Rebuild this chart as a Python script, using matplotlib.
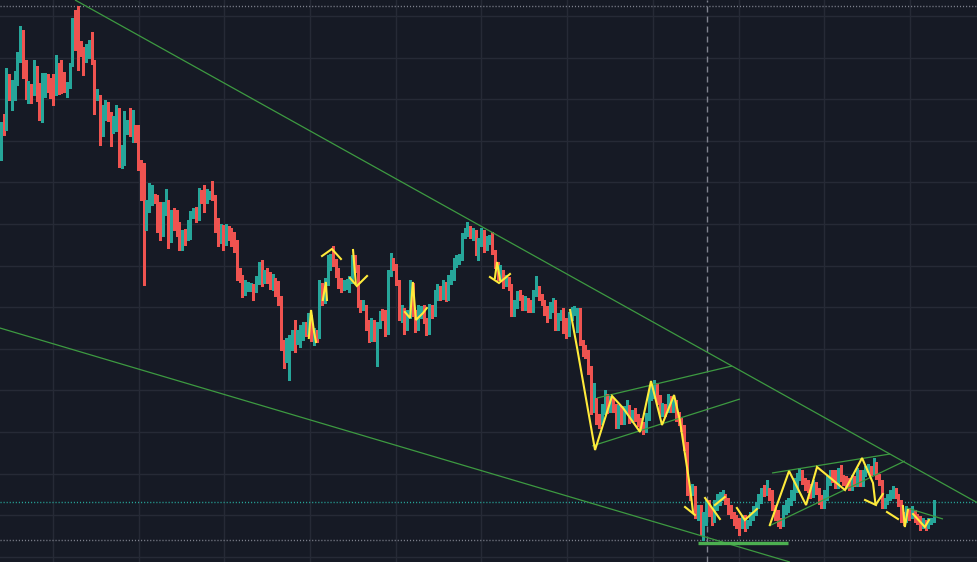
import matplotlib
matplotlib.use("Agg")
import matplotlib.pyplot as plt
import numpy as np

# ---------------- data (price units) ----------------
first_open = 402

close = [
    435, 432, 480, 471, 479, 484, 509, 526, 485, 469,
    476, 471, 495, 465, 447, 469, 487, 482, 477, 472,
    497, 492, 477, 473, 478, 497, 541, 535, 514, 512,
    505, 509, 520, 500, 465, 467, 430, 444, 460, 449,
    433, 438, 452, 397, 414, 435, 440, 430, 435, 425,
    397, 377, 349, 353, 364, 365, 363, 333, 329, 353,
    360, 324, 347, 345, 333, 318, 326, 324, 326, 348,
    350,
    343, 368, 365, 361, 366, 367, 365, 333, 321, 329, 319, 335, 330, 321, 315, 290, 286, 270, 273, 274,
    275,
    272, 283, 296, 282, 287, 285, 277, 279, 269, 262, 217, 204, 217, 219, 224, 220, 228, 231, 236, 230,
    242, 223, 229, 226, 270, 260, 280, 300, 303, 300, 289, 279, 275, 276,
    278,
    282, 303, 294, 259, 255, 257, 237, 223, 238, 226, 236, 247, 245, 230, 288, 300, 295, 280, 245, 249,
    234, 247, 275, 249, 234, 247,
    250,
    242, 230, 254, 248, 267,
    272, 265, 278, 264, 280, 285, 297, 300, 304, 325, 329, 332, 328, 330, 311, 320, 332, 314, 322, 324,
    312, 300, 287, 292, 277, 282, 277, 249, 257, 267, 266, 254, 262, 259, 252, 267, 272, 265, 260, 250,
    247, 254, 259, 235, 244, 249, 240, 229, 244, 249, 252, 252, 220, 209, 207, 192, 152,
    162, 142, 140, 152,
    165, 152, 161, 154, 137, 152, 142, 152,
    154, 142, 147,
    144, 140, 135, 132, 145, 167, 169, 177, 162, 149, 155, 150,
    165, 152, 162,
    144, 142, 134, 115, 72, 69, 74, 49, 54, 37, 42, 57, 50, 42, 57, 64,
    66, 67, 62, 52, 49, 42, 40, 34, 42, 36, 37,
    44, 50, 57, 62, 72, 70, 74, 67, 55, 47, 39, 37, 52, 54, 60, 67, 77, 84, 90, 82,
    77, 74, 67, 77, 72, 62, 57, 67, 82, 89, 84, 77, 89, 84, 80,
    78, 75, 82, 79, 90, 79, 89, 92, 94, 90, 92, 86, 80, 57, 60, 64, 68, 72, 67, 60,
    44, 42, 52, 47, 50, 44,
    42, 34, 38, 36, 40, 42, 60,
]

high = [
    440, 448, 494, 488, 482, 491, 510, 536, 532, 502,
    481, 478, 502, 496, 479, 489, 489, 488, 484, 488,
    507, 499, 502, 490, 480, 499, 544, 552, 556, 521,
    515, 518, 522, 530, 502, 473, 467, 457, 462, 459,
    450, 446, 457, 454, 417, 451, 442, 454, 452, 437,
    437, 402, 399, 362, 379, 377, 368, 367, 360, 360,
    373, 362, 352, 354, 352, 340, 332, 333, 342, 351,
    354,
    355, 374, 372, 377, 373, 371, 381, 367, 344, 338, 337, 338, 336, 334, 330, 322, 294, 287, 282, 280,
    279,
    278, 286, 300, 302, 292, 294, 290, 288, 284, 281, 266, 222, 224, 227, 232, 242, 232, 237, 240, 240,
    249, 247, 234, 232, 282, 279, 284, 307, 308, 316, 303, 294, 284, 282,
    283,
    286, 307, 307, 297, 262, 262, 257, 242, 244, 242, 240, 251, 253, 252, 292, 309, 304, 298, 282, 257,
    254, 252, 282, 279, 252, 257,
    256,
    257, 244, 258, 257, 272,
    278, 276, 282, 280, 287, 292, 304, 307, 308, 329, 334, 340, 336, 334, 332, 324, 334, 332, 326, 327,
    330, 312, 300, 297, 292, 287, 285, 278, 262, 271, 272, 267, 266, 264, 262, 272, 286, 276, 268, 262,
    256, 260, 264, 262, 249, 252, 254, 244, 250, 255, 256, 254, 254, 222, 217, 212, 196,
    179, 164, 148, 158,
    172, 168, 166, 164, 158, 157, 156, 156,
    162, 157, 152,
    154, 148, 144, 140, 149, 172, 176, 182, 179, 167, 159, 158,
    168, 166, 166,
    162, 150, 144, 137, 120, 76, 78, 76, 57, 57, 50, 62, 62, 54, 62, 68,
    70, 72, 68, 64, 57, 50, 47, 44, 47, 47, 42,
    50, 56, 60, 68, 74, 77, 82, 74, 72, 57, 52, 44, 57, 62, 64, 72, 84, 89, 94, 92,
    84, 82, 78, 82, 80, 74, 67, 72, 86, 92, 92, 92, 94, 97, 87,
    86, 84, 87, 86, 94, 92, 92, 96, 98, 96, 104, 100, 88, 82, 64, 68, 72, 76, 74, 68,
    62, 50, 56, 54, 56, 52,
    48, 46, 44, 42, 44, 44, 62,
]

low = [
    402, 427, 432, 462, 452, 462, 477, 500, 484, 463,
    459, 459, 467, 461, 442, 440, 465, 470, 464, 457,
    467, 468, 469, 470, 465, 474, 496, 512, 492, 506,
    487, 500, 504, 498, 448, 462, 417, 426, 442, 441,
    416, 429, 431, 395, 394, 397, 428, 426, 420, 420,
    392, 362, 277, 332, 350, 357, 359, 330, 322, 326,
    347, 314, 320, 332, 326, 312, 312, 317, 322, 323,
    344,
    340, 342, 359, 350, 359, 363, 362, 330, 316, 319, 312, 317, 322, 316, 310, 282, 280, 265, 267, 271,
    271,
    262, 270, 278, 276, 279, 279, 273, 272, 266, 257, 212, 194, 200, 182, 212, 210, 218, 215, 222, 226,
    228, 221, 217, 220, 224, 257, 259, 277, 292, 296, 285, 274, 270, 272,
    273,
    270, 279, 290, 255, 250, 252, 232, 220, 221, 221, 196, 234, 242, 226, 228, 286, 292, 277, 242, 240,
    228, 232, 244, 246, 230, 232,
    244,
    239, 227, 228, 244, 246,
    262, 262, 263, 261, 262, 278, 282, 295, 298, 302, 324, 326, 324, 322, 307, 302, 316, 310, 312, 318,
    308, 294, 282, 282, 274, 276, 272, 246, 246, 254, 262, 252, 252, 250, 250, 250, 266, 262, 257, 247,
    240, 244, 250, 232, 232, 242, 229, 224, 226, 242, 247, 230, 217, 206, 204, 188, 148,
    150, 138, 134, 138,
    148, 149, 150, 150, 134, 134, 138, 138,
    150, 139, 140,
    141, 136, 132, 128, 130, 142, 162, 164, 158, 146, 146, 146,
    152, 150, 150,
    141, 137, 131, 112, 67, 62, 67, 44, 42, 27, 22, 37, 46, 37, 40, 52,
    57, 62, 58, 48, 44, 37, 34, 27, 34, 31, 34,
    38, 42, 47, 54, 59, 66, 67, 62, 52, 42, 36, 34, 36, 48, 50, 57, 62, 70, 82, 78,
    72, 70, 64, 65, 68, 58, 54, 54, 62, 77, 80, 74, 74, 81, 77,
    74, 72, 72, 76, 76, 76, 76, 86, 90, 87, 88, 83, 77, 54, 54, 58, 62, 64, 64, 56,
    40, 37, 40, 42, 44, 40,
    38, 32, 34, 32, 34, 38, 40,
]

# drawings: (bar index, price) anchors
trend_top = [(27.0, 562), (356.0, 59)]
trend_bottom = [(-0.4, 234), (287.5, 0)]
channel1_upper = [(217.2, 164), (266.4, 196)]
channel1_lower = [(215.4, 116), (269.3, 163)]
channel2_upper = [(281.0, 89), (324.0, 108)]
channel2_lower = [(279.9, 36), (329.4, 101)]
flag_line = [(330.2, 54), (343.3, 43)]
support_line = [(254.0, 19), (286.8, 19)]
session_bar = 257.3

zz1 = [(112.2, 224), (113.0, 252), (114.1, 230), (114.8, 220)]
zz2 = [(117.3, 262), (118.4, 280), (118.8, 262)]
zz3 = [(117.0, 306), (120.6, 313), (123.9, 303)]
zz4 = [(128.3, 312), (129.3, 279)]
zz5 = [(127.2, 284), (129.7, 276), (133.4, 286)]
zz6 = [(147.2, 250), (149.1, 244), (150.1, 280), (151.2, 242), (153.8, 249), (155.2, 254)]
zz7 = [(180.0, 284), (180.8, 300), (181.9, 282)]
zz8 = [(178.2, 285), (181.5, 279), (185.5, 288)]
zz9 = [(207.4, 252), (209.9, 215), (216.5, 112), (222.7, 166), (226.7, 154), (232.9, 130),
       (236.9, 181), (240.9, 137), (245.3, 167), (247.4, 142), (251.1, 75), (252.2, 50)]
zz10 = [(249.3, 55), (252.9, 47)]
zz11 = [(256.6, 64), (262.0, 43)]
zz12 = [(260.2, 57), (263.8, 65)]
zz13 = [(268.2, 54), (271.1, 42), (275.5, 53)]
zz14 = [(280.2, 37), (287.2, 91), (293.4, 57), (297.4, 95), (307.6, 72), (313.8, 104),
        (317.8, 79), (318.7, 58)]
zz15 = [(314.9, 62), (318.9, 57)]
zz16 = [(319.2, 59), (321.4, 68)]
zz17 = [(322.9, 50), (326.9, 43)]
zz18 = [(328.7, 56), (329.4, 35), (330.5, 52)]
zz19 = [(332.4, 48), (336.7, 35), (338.2, 42)]

# ---------------- style ----------------
BG = "#161a25"
GRID = "#262a36"
UP = "#26a69a"
DN = "#ef5350"
GREEN = "#3d9a41"
YELLOW = "#ffeb3b"
GRAY = "#80838f"

fig = plt.figure(figsize=(9.77, 5.62), dpi=100, facecolor=BG)
ax = fig.add_axes([0, 0, 1, 1], facecolor=BG)

n = len(close)
idx = np.arange(n)
c = np.array(close, dtype=float)
o = np.array([first_open] + close[:-1], dtype=float)
h = np.array(high, dtype=float)
l = np.array(low, dtype=float)
up = c >= o
cols = np.where(up, UP, DN)
top = np.maximum(o, c)
bot = np.minimum(o, c)

ax.vlines(idx, np.minimum(l, bot), np.maximum(h, top), colors=cols, lw=0.75,
          zorder=3, antialiased=False)
ax.bar(idx, np.maximum(top - bot, 1.0), bottom=bot, width=0.66, color=cols, lw=0,
       zorder=4, antialiased=False)

# grid
ax.set_xlim(-0.36, 355.7)
ax.set_ylim(0, 562)
ax.set_xticks(np.arange(18.95, 356, 31.23))
ax.set_yticks(np.arange(546, 0, -41.6))
ax.grid(True, color=GRID, lw=1.0, zorder=0)
ax.tick_params(length=0, labelbottom=False, labelleft=False)
for s in ax.spines.values():
    s.set_visible(False)

# price markers
ax.axhline(max(high), color=GRAY, lw=1.0, ls=(0, (0.8, 1.4)), zorder=2)
ax.axhline(min(low), color=GRAY, lw=1.0, ls=(0, (0.8, 1.4)), zorder=2)
ax.axhline(close[-1], color=UP, lw=1.0, ls=(0, (0.8, 1.4)), zorder=2)
ax.axvline(session_bar, color=GRAY, lw=1.0, ls=(0, (4.3, 2.9)), zorder=2)

# green drawings
for seg in [trend_top, trend_bottom, channel1_upper, channel1_lower,
            channel2_upper, channel2_lower, flag_line]:
    xs, ys = zip(*seg)
    ax.plot(xs, ys, color=GREEN, lw=0.9, zorder=5, solid_capstyle="butt")
xs, ys = zip(*support_line)
ax.plot(xs, ys, color="#4caf50", lw=2.4, zorder=5, solid_capstyle="butt")

# yellow zigzags
for zz in [zz1, zz2, zz3, zz4, zz5, zz6, zz7, zz8, zz9, zz10, zz11, zz12,
           zz13, zz14, zz15, zz16, zz17, zz18, zz19]:
    xs, ys = zip(*zz)
    ax.plot(xs, ys, color=YELLOW, lw=1.5, zorder=6, solid_joinstyle="miter")

fig.savefig("out.png", dpi=100, facecolor=BG)
